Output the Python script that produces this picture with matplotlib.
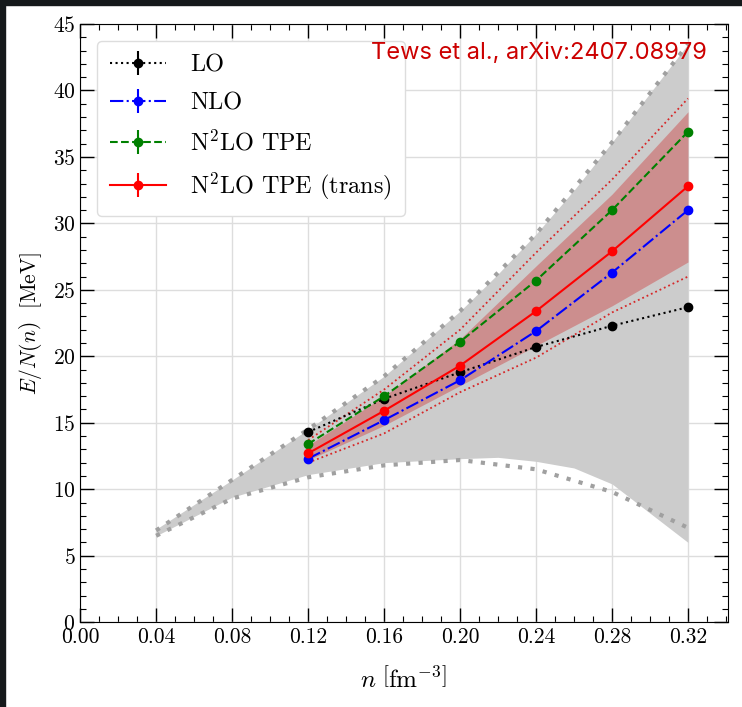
import matplotlib
matplotlib.use("Agg")
import matplotlib.pyplot as plt
from matplotlib.patches import Rectangle
from matplotlib.ticker import MultipleLocator
import numpy as np

plt.rcParams['font.family'] = 'serif'
plt.rcParams['font.serif'] = ['cmr10']
plt.rcParams['mathtext.fontset'] = 'cm'
plt.rcParams['axes.formatter.use_mathtext'] = True

# densities of the calculations
n_pts = [0.12, 0.16, 0.20, 0.24, 0.28, 0.32]
lo = [14.3, 16.8, 18.8, 20.7, 22.3, 23.7]
nlo = [12.3, 15.2, 18.2, 21.9, 26.3, 31.0]
n2lo = [13.4, 17.0, 21.1, 25.7, 31.0, 36.9]
n2lo_trans = [12.7, 15.9, 19.3, 23.4, 27.9, 32.8]

# uncertainty band of N2LO TPE (trans)
band_lo = [12.2, 14.8, 17.8, 20.8, 23.8, 27.1]
band_hi = [13.3, 17.0, 21.3, 26.8, 32.2, 38.4]
dot_lo = [12.0, 14.2, 17.3, 19.9, 23.3, 26.0]
dot_hi = [13.7, 17.5, 22.0, 27.8, 33.3, 39.4]

# broad gray band
gn = [0.04, 0.08, 0.12, 0.16, 0.20, 0.22, 0.24, 0.26, 0.28, 0.32]
gray_lo = [6.5, 9.4, 11.1, 12.0, 12.3, 12.4, 12.1, 11.6, 10.4, 6.0]
gray_hi = [7.0, 10.7, 14.5, 18.5, 23.4, 26.2, 29.2, 32.5, 36.1, 43.5]
gdot_n = [0.04, 0.08, 0.12, 0.16, 0.20, 0.24, 0.28, 0.32]
gdot_lo = [6.5, 9.3, 10.9, 11.8, 12.2, 11.5, 9.8, 7.1]
gdot_hi = [6.9, 10.7, 14.5, 18.5, 23.4, 29.2, 36.1, 43.5]

fig = plt.figure(figsize=(7.42, 7.07), dpi=100)
ax = fig.add_axes([0.108, 0.120, 0.873, 0.846])

ax.fill_between(gn, gray_lo, gray_hi, color='#cccccc', lw=0, zorder=1)
ax.plot(gdot_n, gdot_lo, color='#a0a0a0', ls=(0, (1, 2)), lw=3, zorder=2)
ax.plot(gdot_n, gdot_hi, color='#a0a0a0', ls=(0, (1, 2)), lw=3, zorder=2)

ax.fill_between(n_pts, band_lo, band_hi, color='indianred', alpha=0.55, lw=0, zorder=3)
ax.plot(n_pts, dot_lo, color='#d62728', ls=':', lw=1.3, zorder=3)
ax.plot(n_pts, dot_hi, color='#d62728', ls=':', lw=1.3, zorder=3)

zero = np.zeros(len(n_pts))
ax.errorbar(n_pts, lo, yerr=zero, color='black', ls=':', marker='o', ms=6, lw=1.5, label='LO', zorder=5)
ax.errorbar(n_pts, nlo, yerr=zero, color='blue', ls='-.', marker='o', ms=6, lw=1.5, label='NLO', zorder=5)
ax.errorbar(n_pts, n2lo, yerr=zero, color='green', ls='--', marker='o', ms=6, lw=1.5,
            label=r'N$^2$LO TPE', zorder=5)
ax.errorbar(n_pts, n2lo_trans, yerr=zero, color='red', ls='-', marker='o', ms=6, lw=1.5,
            label=r'N$^2$LO TPE (trans)', zorder=6)

ax.set_xlim(0, 0.341)
ax.set_ylim(0, 45)
ax.xaxis.set_major_locator(MultipleLocator(0.04))
ax.xaxis.set_minor_locator(MultipleLocator(0.01))
ax.yaxis.set_major_locator(MultipleLocator(5))
ax.yaxis.set_minor_locator(MultipleLocator(1))
ax.xaxis.set_major_formatter(plt.FuncFormatter(lambda v, p: f"{v:.2f}"))
ax.tick_params(which='both', direction='in', top=True, right=True, labelsize=15.5)
ax.tick_params(which='major', length=10, width=1)
ax.tick_params(which='minor', length=4, width=0.8)
ax.grid(True, color='#dddddd', lw=1, zorder=0)
ax.set_axisbelow(True)

ax.set_xlabel(r'$n\ \left[\mathrm{fm}^{-3}\right]$', fontsize=18, labelpad=14)
ax.set_ylabel(r'$E/N(n)\ \ [\mathrm{MeV}]$', fontsize=15.5, labelpad=6)

leg = ax.legend(loc='upper left', fontsize=17.4, frameon=True, fancybox=True,
                edgecolor='#dddddd', framealpha=1, handlelength=2.3, handletextpad=1.0,
                borderpad=0.55, labelspacing=0.65, borderaxespad=0.7)
leg.set_zorder(8)

ax.text(0.968, 0.97, 'Tews et al., arXiv:2407.08979', transform=ax.transAxes,
        ha='right', va='top', color='#cc0000', fontsize=17, family='Inter', zorder=9)

# dark screenshot frame at top and left
fig.patches.append(Rectangle((0, 0), 0.007, 1, transform=fig.transFigure, color='#15191b', zorder=10))
fig.patches.append(Rectangle((0, 0.993), 1, 0.007, transform=fig.transFigure, color='#15191b', zorder=10))

fig.savefig('out.png', dpi=100)
